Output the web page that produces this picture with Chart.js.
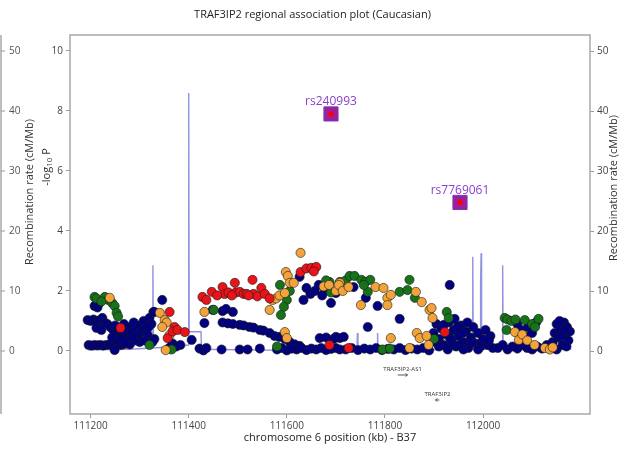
<!DOCTYPE html>
<html>
<head>
<meta charset="utf-8">
<script src="https://cdn.jsdelivr.net/npm/chart.js@4/dist/chart.umd.min.js"></script>
<style>
  html, body { margin: 0; padding: 0; background: #fff; }
</style>
</head>
<body>
<canvas id="myChart" width="625" height="449"></canvas>
<script>
// SNPs as [position (kb), -log10 P], grouped by LD colour
var navySnps = [
  [111196,0.2],[111202,0.18],[111208,0.2],[111214,0.19],[111220,0.2],[111226,0.18],[111232,0.2],[111238,0.21],
  [111244,0.19],[111250,0.2],[111256,0.22],[111262,0.2],[111268,0.23],[111274,0.25],[111280,0.22],
  [111194,1.03],[111200,1.0],[111206,1.05],[111212,0.98],[111218,1.02],[111224,1.1],[111228,0.95],
  [111208,1.5],[111214,1.45],[111218,1.6],[111212,0.77],[111222,0.7],
  [111234,0.9],[111240,0.8],[111246,0.7],[111250,0.85],[111256,0.6],[111260,0.75],[111264,0.55],[111268,0.9],
  [111272,0.65],[111276,0.45],[111280,0.8],[111284,0.6],[111288,0.95],[111292,0.7],[111296,0.5],[111300,0.85],
  [111304,0.65],[111308,1.0],[111312,0.75],[111316,0.55],[111320,1.1],[111324,0.9],[111328,1.3],[111330,0.4],
  [111326,0.3],[111300,0.3],[111290,0.35],[111244,0.45],[111256,0.35],[111270,0.3],[111249,0.03],
  [111286,0.45],[111310,0.35],[111318,0.8],[111262,0.4],
  [111330,1.3],[111346,1.7],[111360,0.1],[111367,0.25],[111375,0.15],[111383,0.2],[111406,0.37],
  [111422,0.08],[111430,0.02],[111436,0.1],[111432,0.93],[111449,1.37],[111469,1.33],[111476,1.4],[111490,1.3],
  [111469,0.95],[111480,0.92],[111490,0.9],
  [111504,0.87],[111512,0.85],[111524,0.8],[111532,0.78],[111545,0.7],[111552,0.68],[111565,0.6],[111575,0.5],
  [111585,0.47],[111596,0.4],[111606,0.3],[111616,0.22],[111626,0.17],
  [111467,0.05],[111504,0.05],[111520,0.05],[111545,0.08],
  [111580,0.05],[111590,0.1],[111600,0.02],[111610,0.08],[111620,0.05],[111630,0.1],[111640,0.03],[111650,0.08],
  [111660,0.05],[111670,0.1],[111680,0.03],[111690,0.07],[111700,0.1],[111708,0.05],
  [111626,2.47],[111640,2.1],[111648,1.9],[111634,1.7],[111657,2.0],[111665,2.2],[111678,2.0],[111700,1.93],
  [111690,1.6],[111672,1.85],
  [111667,0.43],[111680,0.45],[111695,0.4],[111708,0.43],
  [111736,2.13],[111932,2.2],[111761,1.77],[111785,1.5],[111830,1.07],[111765,0.8],[111716,0.47],[111700,0.47],
  [111720,0.05],[111732,0.1],[111745,0.03],[111758,0.08],[111770,0.05],[111782,0.1],[111794,0.03],[111806,0.07],
  [111818,0.05],[111830,0.1],[111842,0.03],[111854,0.08],[111866,0.05],[111878,0.1],[111890,0.02],
  [111899,0.6],[111905,0.9],[111910,0.4],[111915,0.75],[111920,0.2],[111925,0.55],[111930,0.95],[111935,0.35],
  [111940,0.7],[111945,0.15],[111950,0.5],[111955,0.85],[111960,0.3],[111965,0.65],[111970,0.1],[111975,0.45],
  [111980,0.8],[111985,0.25],[111990,0.6],[111995,0.15],[112000,0.4],[112005,0.7],[112010,0.2],[112015,0.5],
  [112020,0.1],[111942,1.07],[111920,0.87],[111910,0.15],[111902,0.3],[111928,0.05],[111960,0.05],[111990,0.05],
  [112012,0.35],[111932,0.45],[111948,0.8],[111958,0.6],[111968,0.95],[111978,0.3],[111938,0.25],[111952,0.2],
  [112030,0.1],[112040,0.2],[112050,0.05],[112060,0.15],[112070,0.08],[112080,0.2],[112090,0.1],[112100,0.05],
  [112110,0.15],[112120,0.08],[112130,0.2],[112140,0.1],[112150,0.05],
  [112070,0.9],[112078,0.7],[112085,0.5],[112092,0.8],[112100,0.6],[112108,0.95],
  [112142,0.3],[112146,0.6],[112150,0.9],[112154,0.45],[112158,0.75],[112162,0.2],[112165,0.95],[112168,0.55],
  [112171,0.8],[112174,0.35],[112177,0.65],[112160,0.5],[112170,0.15],[112156,1.0],[112166,0.7]
];
var greenSnps = [
  [111208,1.8],[111212,1.75],[111229,1.8],[111236,1.7],[111244,1.6],[111249,1.5],[111253,1.27],[111256,1.15],
  [111222,1.65],[111320,0.2],[111365,0.05],[111451,1.37],
  [111606,2.0],[111600,1.7],[111594,1.47],[111588,1.2],[111586,2.2],[111687,2.3],[111680,2.35],
  [111708,2.3],[111720,2.35],[111728,2.5],[111738,2.5],[111752,2.37],[111760,2.3],[111770,2.37],[111765,1.97],
  [111757,2.2],[111850,2.37],[111830,1.97],[111846,2.03],[111861,1.77],[111690,1.95],
  [111926,1.3],[111930,1.1],[111580,0.15],[111795,0.05],[111810,0.08],[111900,0.4],
  [112044,1.1],[112050,1.05],[112058,1.0],[112066,1.05],[112085,1.03],[112048,0.7],[112100,0.9],[112113,1.07],
  [112106,0.8]
];
var orangeSnps = [
  [111239,1.77],[111341,1.27],[111351,1.03],[111355,0.95],[111346,0.8],[111361,0.53],[111353,0.03],[111432,1.3],
  [111571,1.7],[111578,1.75],[111585,1.85],[111596,1.93],[111565,1.37],
  [111598,2.63],[111602,2.5],[111606,2.27],[111614,2.27],[111628,3.27],[111596,0.63],[111600,0.43],
  [111675,2.15],[111686,2.2],[111700,2.0],[111708,2.27],
  [111706,2.2],[111714,2.0],[111726,2.13],[111781,2.13],[111797,2.1],[111751,1.53],[111805,1.77],[111812,1.87],
  [111805,1.53],[111863,1.97],[111875,1.63],[111891,1.37],[111895,1.43],[111897,1.1],[111812,0.43],[111865,0.6],
  [111871,0.43],[111885,0.5],[111889,0.2],[111850,0.1],
  [112065,0.63],[112073,0.37],[112080,0.55],[112090,0.35],[112105,0.2],[112126,0.1],[112136,0.05],[112142,0.12]
];
var redSnps = [
  [111261,0.77],[111361,1.3],[111371,0.8],[111357,0.43],[111367,0.65],[111377,0.7],[111392,0.63],
  [111428,1.8],[111436,1.7],[111447,1.97],[111469,2.13],[111473,1.9],[111481,1.95],[111494,2.27],[111496,1.95],
  [111504,1.97],[111512,1.9],[111518,1.9],[111530,2.37],[111532,1.9],[111540,1.82],[111548,2.1],[111555,1.9],
  [111565,1.75],[111458,1.85],[111488,1.85],[111522,1.85],
  [111628,2.63],[111640,2.75],[111650,2.77],[111660,2.8],[111655,2.65],
  [111726,0.1],[111922,0.63],[111687,0.2]
];
var indexSnps = [[111690, 7.9], [111953, 4.95]];
var indexNames = ["rs240993", "rs7769061"];

// recombination rate, [position (kb), cM/Mb]
var recRate = [
  [111195,0.2],[111280,0.3],[111326,0.5],[111327,14.3],[111328,0.5],[111380,0.8],[111399,1.0],[111400,43],
  [111401,3.2],[111425,3.2],[111426,0.3],[111500,0.2],[111600,0.1],[111743,0.2],[111744,3],[111745,0.2],
  [111784,0.2],[111785,3],[111786,0.2],[111900,0.2],[111978,0.3],[111979,15.7],[111980,0.3],[111994,0.3],
  [111995,11],[111996,16.3],[111997,0.3],[112039,0.3],[112040,14.3],[112041,0.3],[112100,0.2],[112180,0.3]
];

var genes = [
  { name: "TRAF3IP2-AS1", start: 111826, end: 111846, strand: 1 },
  { name: "TRAF3IP2", start: 111903, end: 111911, strand: -1 }
];

var xTicks = [111200, 111400, 111600, 111800, 112000];
var logpTicks = [0, 2, 4, 6, 8, 10];
var recTicks = [0, 10, 20, 30, 40, 50];

var FONT = "'Open Sans', sans-serif";

function pts(arr) {
  return arr.map(function (p) { return { x: p[0], y: p[1] }; });
}

function snpSet(label, arr, color, order) {
  return {
    label: label,
    data: pts(arr),
    backgroundColor: color,
    borderColor: "#1a1a1a",
    borderWidth: 0.6,
    pointRadius: 4.6,
    order: order
  };
}

function vText(c, txt, x, y) {
  c.save();
  c.translate(x, y);
  c.rotate(-Math.PI / 2);
  c.textAlign = "center";
  c.textBaseline = "middle";
  c.fillText(txt, 0, 0);
  c.restore();
}

// frame, left-hand recombination axis, axis titles, SNP names, genes
var extras = {
  id: "extras",
  afterDraw: function (chart) {
    var c = chart.ctx;
    var a = chart.chartArea;
    var sx = chart.scales.x, sy = chart.scales.y, rec = chart.scales.yRec;
    c.save();
    c.strokeStyle = "#a8a8a8";
    c.lineWidth = 1.5;
    c.strokeRect(a.left, a.top, a.right - a.left, a.bottom - a.top);

    // second recombination axis on the far left
    c.beginPath();
    c.moveTo(1, a.top);
    c.lineTo(1, a.bottom);
    c.stroke();
    c.lineWidth = 1;
    c.strokeStyle = "#999";
    c.fillStyle = "#555";
    c.font = "10px " + FONT;
    c.textAlign = "left";
    c.textBaseline = "middle";
    recTicks.forEach(function (v) {
      var py = rec.getPixelForValue(v);
      c.beginPath();
      c.moveTo(1, py);
      c.lineTo(5, py);
      c.stroke();
      c.fillText(String(v), 9, py);
    });

    c.fillStyle = "#333";
    c.font = "11px " + FONT;
    vText(c, "Recombination rate (cM/Mb)", 30, 192);
    vText(c, "Recombination rate (cM/Mb)", 614, 188);

    // -log10 P with subscript
    c.save();
    c.translate(47, 167);
    c.rotate(-Math.PI / 2);
    c.textBaseline = "middle";
    c.textAlign = "left";
    var f1 = "11px " + FONT, f2 = "8px " + FONT;
    c.font = f1;
    var w1 = c.measureText("-log").width, w3 = c.measureText(" P").width;
    c.font = f2;
    var w2 = c.measureText("10").width;
    var x0 = -(w1 + w2 + w3) / 2;
    c.font = f1;
    c.fillText("-log", x0, 0);
    c.font = f2;
    c.fillText("10", x0 + w1, 3);
    c.font = f1;
    c.fillText(" P", x0 + w1 + w2, 0);
    c.restore();

    // index SNP names
    c.fillStyle = "#8a3fd0";
    c.font = "12px " + FONT;
    c.textAlign = "center";
    c.textBaseline = "middle";
    indexSnps.forEach(function (p, i) {
      c.fillText(indexNames[i], sx.getPixelForValue(p[0]), sy.getPixelForValue(p[1]) - 12);
    });

    // gene track below the zero line
    var y0 = sy.getPixelForValue(0);
    c.font = "6px " + FONT;
    c.fillStyle = "#333";
    c.strokeStyle = "#555";
    genes.forEach(function (g, i) {
      var x1 = sx.getPixelForValue(g.start), x2 = sx.getPixelForValue(g.end);
      var ty = y0 + 18 + i * 25;
      c.fillText(g.name, (x1 + x2) / 2, ty);
      var ay = ty + 6;
      c.beginPath();
      c.moveTo(x1, ay);
      c.lineTo(x2, ay);
      var tip = g.strand > 0 ? x2 : x1, d = g.strand > 0 ? -2 : 2;
      c.moveTo(tip + d, ay - 1.5);
      c.lineTo(tip, ay);
      c.lineTo(tip + d, ay + 1.5);
      c.stroke();
    });
    c.restore();
  }
};

var ctx = document.getElementById("myChart").getContext("2d");
var myChart = new Chart(ctx, {
  type: "scatter",
  data: {
    datasets: [
      {
        label: "index centre",
        data: pts(indexSnps),
        pointStyle: "circle",
        pointRadius: 2.6,
        backgroundColor: "#ff0000",
        borderWidth: 0,
        order: 0
      },
      {
        label: "index SNP",
        data: pts(indexSnps),
        pointStyle: "rect",
        pointRadius: 10,
        backgroundColor: "#9c1f9c",
        borderColor: "#7a3ab8",
        borderWidth: 1,
        order: 1
      },
      snpSet("r2 0.8", redSnps, "#e8141a", 2),
      snpSet("r2 0.5", orangeSnps, "#f2a33a", 3),
      snpSet("r2 0.2", greenSnps, "#17731a", 4),
      snpSet("r2 low", navySnps, "#000080", 5),
      {
        type: "line",
        label: "recombination",
        data: pts(recRate),
        yAxisID: "yRec",
        borderColor: "rgba(110,110,215,0.75)",
        borderWidth: 1.4,
        pointRadius: 0,
        tension: 0,
        order: 6
      }
    ]
  },
  options: {
    responsive: false,
    animation: false,
    layout: { padding: 0 },
    plugins: {
      legend: { display: false },
      tooltip: { enabled: false },
      title: {
        display: true,
        text: "TRAF3IP2 regional association plot (Caucasian)",
        color: "#222",
        font: { family: FONT, size: 11, weight: "normal" },
        padding: { top: 8, bottom: 13.8 }
      }
    },
    scales: {
      x: {
        type: "linear",
        min: 111158,
        max: 112218,
        border: { display: false },
        grid: { drawOnChartArea: false, color: "#999", tickLength: 4 },
        ticks: {
          color: "#444",
          font: { family: FONT, size: 10 },
          padding: 2,
          callback: function (v) { return String(v); }
        },
        afterBuildTicks: function (axis) {
          axis.ticks = xTicks.map(function (v) { return { value: v }; });
        },
        afterFit: function (axis) { axis.height = 35; },
        title: {
          display: true,
          text: "chromosome 6 position (kb) - B37",
          color: "#222",
          font: { family: FONT, size: 11 },
          padding: { top: 0, bottom: 5 }
        }
      },
      y: {
        position: "left",
        min: -2.1,
        max: 10.53,
        border: { display: false },
        grid: { drawOnChartArea: false, color: "#999", tickLength: 4 },
        ticks: { color: "#444", font: { family: FONT, size: 10 }, padding: 3 },
        afterBuildTicks: function (axis) {
          axis.ticks = logpTicks.map(function (v) { return { value: v }; });
        },
        afterFit: function (axis) { axis.width = 70; }
      },
      yRec: {
        position: "right",
        min: -10.5,
        max: 52.67,
        border: { display: false },
        grid: { drawOnChartArea: false, color: "#999", tickLength: 4 },
        ticks: { color: "#444", font: { family: FONT, size: 10 }, padding: 3 },
        afterBuildTicks: function (axis) {
          axis.ticks = recTicks.map(function (v) { return { value: v }; });
        },
        afterFit: function (axis) { axis.width = 35; }
      }
    }
  },
  plugins: [extras]
});
</script>
</body>
</html>
